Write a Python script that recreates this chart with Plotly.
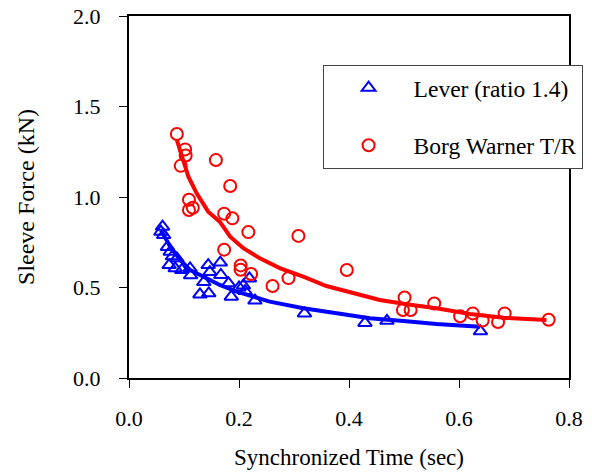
import plotly.graph_objects as go

# Lever (ratio 1.4) measurements
lever_time = [0.061, 0.058, 0.063, 0.070, 0.075, 0.079, 0.087, 0.073, 0.084, 0.096,
              0.111, 0.112, 0.144, 0.166, 0.147, 0.167, 0.136, 0.129, 0.145, 0.181,
              0.186, 0.200, 0.208, 0.219, 0.211, 0.229, 0.319, 0.429, 0.469, 0.639]
lever_force = [0.836, 0.808, 0.790, 0.724, 0.698, 0.672, 0.661, 0.624, 0.606, 0.597,
               0.606, 0.567, 0.624, 0.638, 0.585, 0.569, 0.530, 0.462, 0.468, 0.523,
               0.449, 0.500, 0.511, 0.550, 0.480, 0.428, 0.357, 0.304, 0.316, 0.258]

# Borg Warner T/R measurements
bw_time = [0.087, 0.102, 0.103, 0.094, 0.158, 0.184, 0.109, 0.109, 0.116, 0.173,
           0.188, 0.217, 0.308, 0.173, 0.203, 0.203, 0.222, 0.261, 0.290, 0.396,
           0.501, 0.498, 0.512, 0.555, 0.602, 0.625, 0.643, 0.671, 0.683, 0.763]
bw_force = [1.348, 1.263, 1.229, 1.172, 1.204, 1.061, 0.985, 0.928, 0.941, 0.908,
            0.882, 0.806, 0.785, 0.709, 0.622, 0.598, 0.575, 0.508, 0.552, 0.597,
            0.445, 0.376, 0.376, 0.412, 0.341, 0.357, 0.318, 0.309, 0.357, 0.322]

# Trend lines
lever_fit_time = [0.058, 0.075, 0.093, 0.111, 0.141, 0.165, 0.196, 0.226, 0.256,
                  0.317, 0.378, 0.438, 0.499, 0.559, 0.638]
lever_fit_force = [0.818, 0.725, 0.652, 0.597, 0.551, 0.514, 0.477, 0.449, 0.422,
                   0.385, 0.357, 0.330, 0.315, 0.298, 0.283]
bw_fit_time = [0.087, 0.096, 0.108, 0.123, 0.144, 0.165, 0.184, 0.208, 0.238, 0.275,
               0.317, 0.359, 0.408, 0.456, 0.505, 0.559, 0.620, 0.681, 0.759]
bw_fit_force = [1.315, 1.223, 1.112, 1.020, 0.919, 0.864, 0.781, 0.717, 0.661, 0.606,
                0.560, 0.508, 0.468, 0.431, 0.407, 0.385, 0.354, 0.333, 0.320]

x_ticks = [0.0, 0.2, 0.4, 0.6, 0.8]
x_tick_labels = ["0.0", "0.2", "0.4", "0.6", "0.8"]
y_ticks = [0.0, 0.5, 1.0, 1.5, 2.0]
y_tick_labels = ["0.0", "0.5", "1.0", "1.5", "2.0"]

BLUE = "#0000ff"
RED = "#ff0000"
FONT = "Liberation Serif"

fig = go.Figure()
fig.add_trace(go.Scatter(x=lever_fit_time, y=lever_fit_force, mode="lines",
                         line=dict(color=BLUE, width=4), showlegend=False, hoverinfo="skip"))
fig.add_trace(go.Scatter(x=bw_fit_time, y=bw_fit_force, mode="lines",
                         line=dict(color=RED, width=4), showlegend=False, hoverinfo="skip"))
fig.add_trace(go.Scatter(x=lever_time, y=lever_force, mode="markers", name="Lever (ratio 1.4)",
                         legendgroup="a",
                         marker=dict(symbol="triangle-up-open", size=12, color=BLUE,
                                     line=dict(width=2, color=BLUE))))
fig.add_trace(go.Scatter(x=bw_time, y=bw_force, mode="markers", name="Borg Warner T/R",
                         legendgroup="b",
                         marker=dict(symbol="circle-open", size=12, color=RED,
                                     line=dict(width=2, color=RED))))

axis_common = dict(showgrid=False, zeroline=False, showline=True, linecolor="black",
                   linewidth=2, mirror=True, ticks="outside", ticklen=8, tickwidth=1,
                   tickcolor="black", automargin=False,
                   tickfont=dict(family=FONT, size=22, color="black"))

fig.update_layout(
    width=592, height=472,
    margin=dict(l=129, r=23, t=16, b=94, autoexpand=False),
    paper_bgcolor="white", plot_bgcolor="white",
    font=dict(family=FONT, color="black"),
    xaxis=dict(range=[0, 0.8], tickvals=x_ticks, ticktext=x_tick_labels,
               ticklabelstandoff=12,
               title=dict(text="Synchronized Time (sec)", font=dict(family=FONT, size=23),
                          standoff=18),
               **axis_common),
    yaxis=dict(range=[0, 2.0], tickvals=y_ticks, ticktext=y_tick_labels,
               ticklabelstandoff=14,
               title=dict(text="Sleeve Force (kN)", font=dict(family=FONT, size=24),
                          standoff=32),
               **axis_common),
    legend=dict(x=0.44, y=0.865, xanchor="left", yanchor="top",
                bgcolor="white", bordercolor="#444444", borderwidth=1,
                font=dict(family=FONT, size=23.5, color="black"),
                tracegroupgap=24, itemwidth=80),
    showlegend=True,
)

fig.write_html("out.html", config={"displayModeBar": False},
               post_script="document.body.style.margin='0px';")
